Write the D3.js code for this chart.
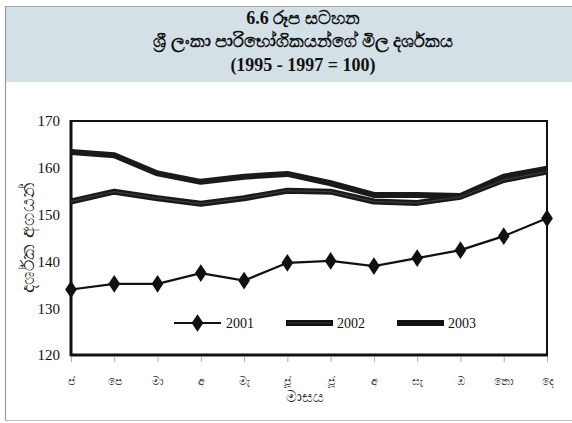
<!DOCTYPE html>
<html><head><meta charset="utf-8">
<script src="https://cdn.jsdelivr.net/npm/d3@7"></script>
<style>
html,body{margin:0;padding:0;background:#fff;}
svg{display:block;}
</style></head>
<body>
<svg id="c" width="572" height="423"></svg>
<script>
const months = ["ජ","පෙ","මා","අ","මැ","ජූ","ජූ","අ","සැ","ඔ","නො","දෙ"];
const s2001 = [134.0,135.2,135.2,137.5,135.9,139.7,140.1,139.0,140.7,142.4,145.4,149.2];
const s2002 = [152.8,154.9,153.5,152.3,153.5,155.1,154.9,152.8,152.5,153.8,157.4,159.2];
const s2003 = [163.4,162.7,158.8,157.0,158.1,158.7,156.7,154.2,154.2,154.0,158.1,159.8];
const yTicks = [120,130,140,150,160,170];
const seriesNames = ["2001","2002","2003"];
const titleLines = ["6.6 රූප සටහන","ශ්‍රී ලංකා පාරිභෝගිකයන්ගේ මිල දර්ශකය","(1995 - 1997  = 100)"];
const yTitle = "දර්ශක අගයන්";
const xTitle = "මාසය";

const svg = d3.select("#c");
const serif = "'Liberation Serif','Times New Roman',serif";

// frame and title band
svg.append("rect").attr("x",6).attr("y",6).attr("width",566).attr("height",76).attr("fill","#d3e1e6");
svg.append("line").attr("x1",5.5).attr("x2",5.5).attr("y1",6).attr("y2",420).attr("stroke","#999").attr("stroke-width",1.2);
svg.append("line").attr("x1",5).attr("x2",572).attr("y1",420.5).attr("y2",420.5).attr("stroke","#bbb").attr("stroke-width",1);
svg.append("line").attr("x1",6).attr("x2",572).attr("y1",6.5).attr("y2",6.5).attr("stroke","#aab").attr("stroke-width",1);

const tY = [24,47,71];
titleLines.forEach((t,i)=>{
  svg.append("text").attr("x",303).attr("y",tY[i]).attr("text-anchor","middle")
    .attr("font-family",serif).attr("font-weight","bold").attr("font-size",18).attr("fill","#111").text(t);
});

const x = d3.scalePoint().domain(d3.range(12)).range([71,547]);
const y = d3.scaleLinear().domain([120,170]).range([355,121]);

// plot frame
svg.append("rect").attr("x",71).attr("y",121).attr("width",476).attr("height",234)
  .attr("fill","none").attr("stroke","#111").attr("stroke-width",2);
svg.append("line").attr("x1",71).attr("x2",71).attr("y1",120).attr("y2",356).attr("stroke","#111").attr("stroke-width",3);
svg.append("line").attr("x1",70).attr("x2",548).attr("y1",355).attr("y2",355).attr("stroke","#111").attr("stroke-width",3);

// y axis
const yAxis = d3.axisLeft(y).tickValues(yTicks).tickSize(0).tickPadding(11);
const gy = svg.append("g").attr("transform","translate(71,0)").call(yAxis);
gy.select(".domain").remove();
gy.selectAll("text").attr("font-family",serif).attr("font-size",15).attr("fill","#111");

// x axis
const xAxis = d3.axisBottom(x).tickSize(5).tickPadding(15).tickFormat(i=>months[i]);
const gx = svg.append("g").attr("transform","translate(0,357)").call(xAxis);
gx.select(".domain").remove();
gx.selectAll("line").attr("stroke","#aaa");
gx.selectAll("text").attr("font-family","'DejaVu Sans',sans-serif").attr("font-size",11).attr("fill","#444");

svg.append("text").attr("x",305).attr("y",402).attr("text-anchor","middle")
  .attr("font-family","'DejaVu Sans',sans-serif").attr("font-size",15).attr("fill","#222").text(xTitle);
svg.append("text").attr("transform","translate(34,238) rotate(-90)").attr("text-anchor","middle")
  .attr("font-family","'DejaVu Sans',sans-serif").attr("font-size",19).attr("fill","#222").text(yTitle);

const line = d3.line().x((d,i)=>x(i)).y(d=>y(d));

// series
svg.append("path").datum(s2003).attr("d",line).attr("fill","none").attr("stroke","#1a1a1a")
  .attr("stroke-width",6).attr("stroke-linejoin","round");
svg.append("path").datum(s2002).attr("d",line).attr("fill","none").attr("stroke","#1a1a1a")
  .attr("stroke-width",6).attr("stroke-linejoin","round");
svg.append("path").datum(s2002).attr("d",line).attr("fill","none").attr("stroke","#888")
  .attr("stroke-width",0.7).attr("stroke-linejoin","round").attr("opacity",0.5);
svg.append("path").datum(s2001).attr("d",line).attr("fill","none").attr("stroke","#111")
  .attr("stroke-width",2.2);
const diamond = d3.symbol().type(d3.symbolDiamond).size(90);
svg.append("g").selectAll("path").data(s2001).join("path")
  .attr("d",diamond).attr("transform",(d,i)=>`translate(${x(i)},${y(d)}) scale(1.15,1)`).attr("fill","#111");

// legend
const lg = [{x1:174,x2:221,t:226,w:2.2},{x1:286,x2:333,t:337,w:6},{x1:397,x2:444,t:448,w:6}];
const ly = 323;
lg.forEach((l,i)=>{
  svg.append("line").attr("x1",l.x1).attr("x2",l.x2).attr("y1",ly).attr("y2",ly).attr("stroke","#111").attr("stroke-width",l.w);
  if(i===0) svg.append("path").attr("d",diamond).attr("transform",`translate(${(l.x1+l.x2)/2},${ly}) scale(1.15,1)`).attr("fill","#111");
  if(i===1) svg.append("line").attr("x1",l.x1+2).attr("x2",l.x2-2).attr("y1",ly).attr("y2",ly).attr("stroke","#888").attr("stroke-width",0.7).attr("opacity",0.5);
  svg.append("text").attr("x",l.t).attr("y",ly+5).attr("font-family",serif).attr("font-size",14).attr("fill","#111").text(seriesNames[i]);
});
</script>
</body></html>
